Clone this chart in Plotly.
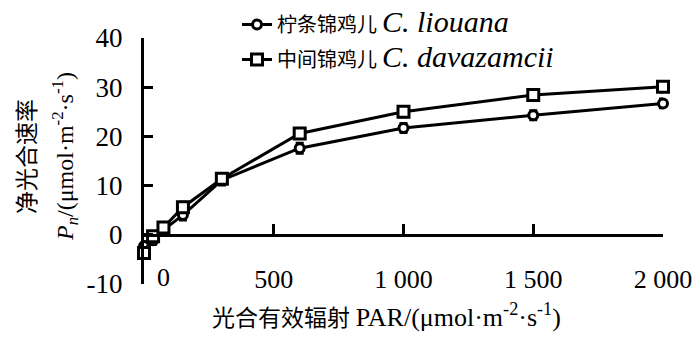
import plotly.graph_objects as go

# Data
par = [0, 35, 75, 150, 300, 600, 1000, 1500, 2000]
pn_liouana = [-2.3, -1.1, 1.0, 4.0, 11.1, 17.6, 21.7, 24.3, 26.7]
pn_davazamcii = [-3.7, -0.3, 1.5, 5.6, 11.4, 20.6, 25.0, 28.4, 30.1]
err_liouana = [0.9, 0.8, 0.8, 1.0, 1.0, 1.0, 0.9, 0.9, 0.9]
err_davazamcii = [0.9, 0.8, 0.8, 1.0, 1.0, 1.0, 1.0, 1.0, 1.0]

name_liouana = "柠条锦鸡儿 <span style='font-size:30px'><i>C. liouana</i></span>"
name_davazamcii = "中间锦鸡儿 <span style='font-size:30px'><i>C. davazamcii</i></span>"

x_tickvals = [500, 1000, 1500, 2000]
x_ticktext = ["500", "1 000", "1 500", "2 000"]
y_tickvals = [-10, 0, 10, 20, 30, 40]
y_ticktext = ["-10", "0", "10", "20", "30", "40"]

FONT = "Liberation Serif, Noto Sans CJK SC, serif"

fig = go.Figure()
fig.add_trace(go.Scatter(
    x=par, y=pn_liouana, name=name_liouana, mode="lines+markers", legendgroup="a",
    line=dict(color="black", width=3),
    marker=dict(symbol="circle", size=9, color="white", line=dict(color="black", width=3)),
    error_y=dict(type="data", array=err_liouana, color="black", thickness=3, width=4),
    cliponaxis=False,
))
fig.add_trace(go.Scatter(
    x=par, y=pn_davazamcii, name=name_davazamcii, mode="lines+markers", legendgroup="b",
    line=dict(color="black", width=3),
    marker=dict(symbol="square", size=11, color="white", line=dict(color="black", width=3)),
    error_y=dict(type="data", array=err_davazamcii, color="black", thickness=3, width=4),
    cliponaxis=False,
))

fig.update_layout(
    width=700, height=338,
    margin=dict(l=144, r=37, t=38, b=54, autoexpand=False),
    plot_bgcolor="white", paper_bgcolor="white",
    font=dict(family=FONT, color="black", size=26),
    showlegend=True,
    legend=dict(
        x=(237 - 144) / 519, xanchor="left", y=1 + 33 / 246, yanchor="top",
        font=dict(size=20, family=FONT, color="black"),
        bgcolor="rgba(0,0,0,0)", traceorder="grouped", tracegroupgap=6,
    ),
    xaxis=dict(
        range=[0, 2000], anchor="free", position=0.2, automargin=False,
        showline=True, linecolor="black", linewidth=3,
        ticks="inside", ticklen=10, tickwidth=3, tickcolor="black",
        tickvals=x_tickvals, ticktext=x_ticktext,
        ticklabelstandoff=20,
        showgrid=False, zeroline=False,
        tickfont=dict(size=26, family=FONT),
    ),
    yaxis=dict(
        range=[-10, 40], automargin=False,
        showline=True, linecolor="black", linewidth=3,
        ticks="inside", ticklen=9, tickwidth=3, tickcolor="black",
        tickvals=y_tickvals, ticktext=y_ticktext,
        ticklabelstandoff=13,
        showgrid=False, zeroline=False,
        tickfont=dict(size=27, family=FONT),
    ),
    annotations=[
        dict(text="0", xref="paper", yref="paper", x=0, y=0, xshift=19, yshift=7,
             xanchor="center", yanchor="middle", showarrow=False,
             font=dict(size=26, family=FONT)),
        dict(text="光合有效辐射 <span style='font-size:26px'>PAR/(μmol·m<sup>-2</sup>·s<sup>-1</sup>)</span>",
             xref="paper", yref="paper", x=(386 - 144) / 519, y=0, yshift=-31,
             xanchor="center", yanchor="middle", showarrow=False,
             font=dict(size=23, family=FONT)),
        dict(text="净光合速率", xref="paper", yref="paper", x=0, y=0.5, xshift=-117, yshift=4,
             textangle=-90, xanchor="center", yanchor="middle", showarrow=False,
             font=dict(size=23, family=FONT)),
        dict(text="<i>P<sub>n</sub></i>/(μmol·m<sup>-2</sup>·s<sup>-1</sup>)",
             xref="paper", yref="paper", x=0, y=0.5, xshift=-79, yshift=4,
             textangle=-90, xanchor="center", yanchor="middle", showarrow=False,
             font=dict(size=24, family=FONT)),
    ],
)

fig.write_html("out.html", config={"displayModeBar": False},
               post_script="document.body.style.margin='0px';")
